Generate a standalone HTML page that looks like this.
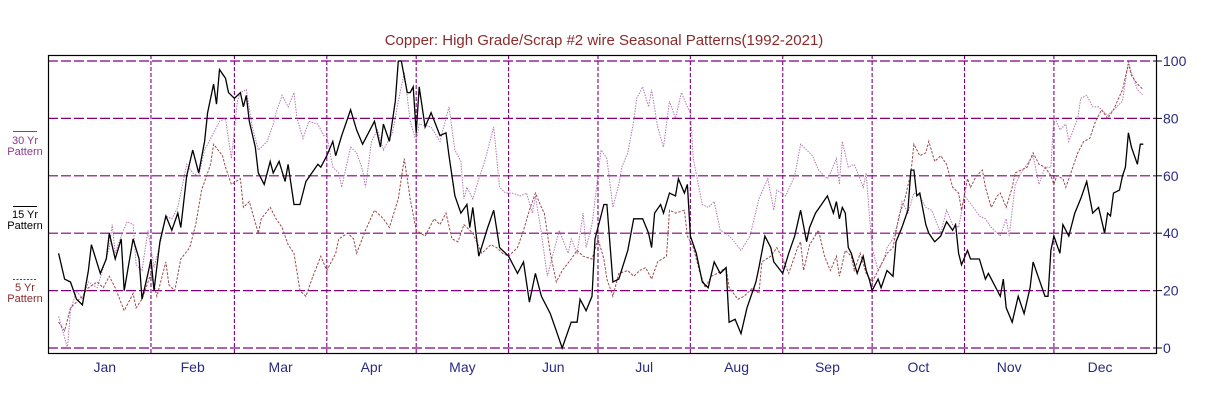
<!DOCTYPE html>
<html><head><meta charset="utf-8"><style>
html,body{margin:0;padding:0;background:#fff;}
svg{display:block;font-family:"Liberation Sans",sans-serif;}
</style></head><body>
<svg id="chart" width="1213" height="412" viewBox="0 0 1213 412" xmlns="http://www.w3.org/2000/svg">
<rect x="0" y="0" width="1213" height="412" fill="#fff"/>
<text x="604" y="45" text-anchor="middle" font-size="15" fill="#8b2a2a">Copper: High Grade/Scrap #2 wire Seasonal Patterns(1992-2021)</text>
<g font-size="11" text-anchor="middle">
<g>
<line x1="13" y1="131.5" x2="37" y2="131.5" stroke="#8b3a8b" stroke-width="1"/>
<text x="25" y="144" fill="#8b3a8b">30 Yr</text><text x="25" y="155" fill="#8b3a8b">Pattern</text></g>
<g>
<line x1="13" y1="206.5" x2="37" y2="206.5" stroke="#000" stroke-width="1"/>
<text x="25" y="218" fill="#000">15 Yr</text><text x="25" y="229" fill="#000">Pattern</text></g>
<g>
<line x1="13" y1="279.5" x2="37" y2="279.5" stroke="#8b2a2a" stroke-width="1" stroke-dasharray="2,1.5"/>
<text x="25" y="291" fill="#8b2a2a">5 Yr</text><text x="25" y="302" fill="#8b2a2a">Pattern</text></g>
</g>
<g id="grid"></g>
<g id="series"></g>
<rect x="48.5" y="55.5" width="1108" height="298" fill="none" stroke="#000" stroke-width="1.2"/>
<g id="axes"></g>
</svg>
<script>
const monthLabels=["Jan","Feb","Mar","Apr","May","Jun","Jul","Aug","Sep","Oct","Nov","Dec"];
const monthStartDays=[0,31,59,90,120,151,181,212,243,273,304,334];
const yTicks=[0,20,40,60,80,100];
const days15=[0,2,4,6,8,10,11,14,16,17,19,21,22,25,27,28,30,31,32,34,36,38,40,41,43,45,47,49,50,52,53,54,56,57,59,61,62,63,64,66,67,69,71,72,74,76,77,79,81,83,85,87,88,90,92,93,95,98,100,102,104,106,108,109,111,113,114,115,117,118,119,120,121,123,125,128,130,131,133,135,137,138,139,141,144,146,148,151,154,156,158,160,162,165,167,169,172,174,175,177,179,180,183,184,186,188,191,193,196,198,199,200,202,203,205,207,208,210,211,212,214,216,218,220,222,224,225,227,229,231,234,235,237,239,240,243,245,247,249,251,252,254,256,258,260,261,262,263,264,265,266,268,270,271,272,273,275,276,278,280,281,283,285,286,287,288,289,291,292,294,296,298,300,301,302,303,305,306,309,311,312,316,317,318,320,322,324,326,327,329,331,332,333,334,336,337,339,341,343,345,347,349,351,352,353,354,356,357,358,359,360,361,362,363,364];
const vals15=[33,24,23,17,15,27,36,26,31,40,31,38,20,38,31,17,26,31,20,37,46,41,47,42,60,69,61,72,82,92,85,97,94,89,87,89,84,88,79,70,61,57,65,61,65,58,64,50,50,58,61,64,63,67,72,67,74,83,76,71,75,79,70,78,72,86,100,100,89,89,91,75,91,77,82,74,75,67,53,47,50,42,49,32,42,48,35,32,26,30,16,26,18,12,6,0,9,9,17,13,18,38,50,50,23,24,34,45,45,40,35,47,50,47,54,53,59,54,57,39,33,23,21,30,26,28,9,10,5,14,23,28,39,35,30,26,33,39,48,37,42,47,50,53,47,51,45,49,47,35,33,26,32,27,24,20,24,21,27,25,37,42,48,62,62,53,54,43,40,37,39,44,41,43,33,29,34,31,31,24,26,18,24,14,9,18,12,21,30,24,18,18,34,39,33,43,39,47,52,58,47,49,40,47,46,54,55,60,63,75,70,67,64,71,71];
const days30=[0,3,4,6,8,10,13,15,17,18,19,21,23,25,26,28,30,32,34,36,38,40,43,45,47,49,52,54,56,58,60,61,63,65,67,70,72,73,75,77,79,80,82,84,87,89,90,92,94,95,98,100,102,103,105,107,109,112,114,116,118,120,121,125,128,131,133,135,136,137,139,141,143,146,148,150,152,155,157,159,160,162,164,166,168,171,172,174,176,177,179,181,182,184,186,188,189,191,193,194,196,198,199,201,203,205,207,209,211,212,213,216,218,220,222,224,226,229,232,235,238,240,241,244,247,249,251,253,255,258,259,261,262,263,265,267,270,271,272,273,275,277,278,280,282,283,285,287,289,291,293,296,298,300,302,304,307,309,311,313,316,318,319,321,323,325,327,329,331,333,334,336,338,339,342,343,345,347,349,352,354,357,359,360,362,364];
const vals30=[11,0,13,20,17,23,21,28,35,43,33,39,44,43,29,27,41,28,36,46,45,49,64,61,60,69,75,79,80,66,86,89,90,77,69,72,78,82,88,84,89,80,73,79,78,74,74,63,61,56,70,68,62,56,72,76,69,75,86,96,79,72,78,77,72,84,69,65,52,56,52,59,65,77,56,54,54,53,54,47,53,40,25,33,41,33,38,33,47,35,43,60,69,66,49,57,63,68,79,87,91,84,90,77,70,86,80,89,84,82,66,50,49,51,41,40,38,34,39,52,59,48,55,53,60,71,69,67,62,59,61,66,57,72,63,64,56,61,47,35,27,31,35,38,45,51,47,54,53,49,48,40,48,43,42,53,49,46,45,42,39,45,39,57,61,64,67,57,63,63,81,76,78,72,80,87,88,84,84,81,83,86,100,96,90,88];
const days5=[0,2,4,6,8,10,13,15,17,19,22,25,26,28,31,33,36,37,39,41,44,46,48,51,52,55,56,58,61,62,64,67,68,71,73,75,77,79,81,83,85,88,90,93,94,97,99,100,103,106,109,111,114,116,118,120,123,126,128,130,132,134,136,139,142,145,147,149,151,154,156,158,160,162,163,165,167,169,172,174,176,179,181,183,184,186,188,191,193,195,197,199,201,204,205,207,210,211,213,215,217,219,221,224,225,228,230,233,235,236,239,241,243,245,248,249,250,252,255,257,259,261,262,264,266,267,269,271,273,276,278,280,282,284,286,287,289,291,292,294,296,298,300,302,303,305,306,308,310,311,313,315,316,318,320,321,323,325,327,329,331,333,334,335,337,338,340,342,344,346,348,350,352,354,357,359,360,362,364];
const vals5=[9,6,14,16,18,21,23,21,25,21,13,19,14,17,26,18,30,22,20,31,35,43,55,64,71,67,63,57,59,49,51,40,45,49,45,42,36,33,20,18,24,32,27,33,38,40,38,33,41,48,45,42,52,66,52,41,39,45,43,47,38,37,43,40,33,36,35,33,32,35,41,48,54,49,47,33,23,27,31,34,32,31,38,31,24,18,26,27,25,27,28,24,30,32,48,47,48,39,35,27,21,25,26,28,21,17,18,21,19,30,32,35,31,26,35,37,27,36,41,32,27,32,25,34,32,27,33,26,23,29,33,35,46,52,61,71,67,68,72,65,67,64,56,54,48,59,56,60,62,56,49,53,54,49,56,61,62,63,68,64,63,60,57,60,59,56,62,68,72,73,79,83,80,83,90,99,95,92,90];

const X0=48,X1=1157,Y0=61,Ybot=348;
function xScale(d){return 58.6+d*2.98;}
function yScale(v){return Ybot-(v/100)*(Ybot-Y0);}
const NS="http://www.w3.org/2000/svg";
function mk(tag,attrs,parent){const e=document.createElementNS(NS,tag);for(const k in attrs)e.setAttribute(k,attrs[k]);parent.appendChild(e);return e;}
const grid=document.getElementById('grid'),axes=document.getElementById('axes'),series=document.getElementById('series');
yTicks.forEach(t=>{
  const y=yScale(t);
  const l=mk('line',{x1:X0,x2:X1,y1:y,y2:y,stroke:'#800080','stroke-width':1.2,'stroke-dasharray':'10,3'},grid);
  
  
  const tk=mk('line',{x1:X1,x2:X1+5,y1:y,y2:y,stroke:'#000','stroke-width':1},axes);
  
  
  const tx=mk('text',{x:X1+6,y:y+5,'font-size':14,fill:'#2a2a80'},axes);
  tx.textContent=t;
  
  
});
monthStartDays.forEach((d,i)=>{
  if(i>0){
    const x=xScale(d);
    const l=mk('line',{x1:x,x2:x,y1:55,y2:354,stroke:'#800080','stroke-width':1.1,'stroke-dasharray':'4,2'},grid);
    
    
  }
  const next=i<11?monthStartDays[i+1]:365;
  const cx=(xScale(d)+xScale(next))/2;
  const tx=mk('text',{x:cx,y:372,'font-size':14,fill:'#2a2a80','text-anchor':'middle'},axes);
  tx.textContent=monthLabels[i];
  
  
});
function line(days,vals,attrs,name){
  const pts=days.map((d,i)=>xScale(d).toFixed(1)+','+yScale(vals[i]).toFixed(1)).join(' ');
  const p=mk('polyline',Object.assign({points:pts,fill:'none'},attrs),series);
  
  
}
line(days30,vals30,{stroke:'#b47ab4','stroke-width':1,'stroke-dasharray':'1.5,1.2'},'line-30yr-pattern');
line(days5,vals5,{stroke:'#9a4a4a','stroke-width':1,'stroke-dasharray':'2.5,1.5'},'line-5yr-pattern');
line(days15,vals15,{stroke:'#000','stroke-width':1.3},'line-15yr-pattern');
</script>
</body></html>
